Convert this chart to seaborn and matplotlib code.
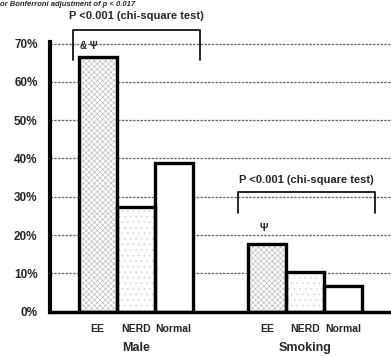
import pandas as pd
import matplotlib
matplotlib.use("Agg")
import matplotlib.pyplot as plt
import seaborn as sns

# values (percent)
groups = ["Male", "Smoking"]
categories = ["EE", "NERD", "Normal"]
male_values = [66.5, 27.3, 38.9]
smoking_values = [17.7, 10.4, 6.8]
ytick_values = [0, 10, 20, 30, 40, 50, 60, 70]
p_label = "P <0.001 (chi-square test)"
male_mark = "& \u03a8"
smoking_mark = "\u03a8"

# bar positions along the x axis (bar width = 1)
male_pos = [1.25, 2.25, 3.25]
smoking_pos = [5.72, 6.72, 7.72]

df = pd.DataFrame({
    "pos": male_pos + smoking_pos,
    "value": male_values + smoking_values,
    "cat": categories * 2,
})

sns.set_style("white")
plt.rcParams["font.family"] = ["Liberation Sans", "DejaVu Sans"]
plt.rcParams["hatch.linewidth"] = 0.35

fig = plt.figure(figsize=(3.91, 3.56), dpi=100)
ax = fig.add_axes([0.128, 0.1245, 0.872, 0.7575])

# grid behind bars
for v in ytick_values[1:]:
    ax.axhline(v, color="#666666", lw=0.9, ls=(0, (2, 1)), zorder=0)

# hatched fills
sns.barplot(data=df, x="pos", y="value", native_scale=True, width=1.0,
            color="white", linewidth=0, ax=ax, zorder=2)
hatches = ["xxxxxx", "...", ""] * 2
hatch_colors = ["#a8a8a8", "#cfcfcf", "white"] * 2
for patch, h, c in zip(ax.patches, hatches, hatch_colors):
    patch.set_facecolor("white")
    patch.set_hatch(h)
    patch.set_edgecolor(c)
    patch.set_linewidth(0)

# black outlines
sns.barplot(data=df, x="pos", y="value", native_scale=True, width=1.0,
            color="black", fill=False, linewidth=2.4, ax=ax, zorder=3)

ax.set_xlim(0, 8.97)
ax.set_ylim(0, 70.4)
ax.set_yticks(ytick_values)
ax.set_yticklabels([f"{v}%" for v in ytick_values], fontsize=8.5, fontweight="bold")
ax.tick_params(axis="y", length=0, pad=9)
ax.set_xticks(male_pos + smoking_pos)
ax.set_xticklabels(categories * 2, fontsize=7.5, fontweight="bold")
ax.tick_params(axis="x", length=0, pad=9)
ax.set_xlabel("")
ax.set_ylabel("")

for side in ["top", "right"]:
    ax.spines[side].set_visible(False)
ax.spines["left"].set_linewidth(3)
ax.spines["bottom"].set_linewidth(2.5)
ax.spines["left"].set_color("black")
ax.spines["bottom"].set_color("black")

# group labels
for g, pos in zip(groups, [male_pos, smoking_pos]):
    ax.text(pos[1], -9.6, g, ha="center", va="center", fontsize=9,
            fontweight="bold", clip_on=False)

# significance brackets
def bracket(x0, x1, ytop, ybot, label_y):
    ax.plot([x0, x0, x1, x1], [ybot, ytop, ytop, ybot], color="black",
            lw=1.2, clip_on=False, zorder=4)
    ax.text((x0 + x1) / 2, label_y, p_label, ha="center", va="center",
            fontsize=8, fontweight="bold", clip_on=False)

bracket(0.6, 3.95, 73.5, 65.7, 77.2)
bracket(4.95, 8.55, 31.3, 25.8, 34.4)

ax.text(0.8, 69.3, male_mark, ha="left", va="center", fontsize=7,
        fontweight="bold", zorder=5)
ax.text(5.63, 21.9, smoking_mark, ha="center", va="center", fontsize=7.5,
        fontweight="bold", zorder=5)

# small note at the very top
fig.text(0.0, 0.998, "or Bonferroni adjustment of p < 0.017", ha="left",
         va="top", fontsize=5.5, fontstyle="italic", fontweight="bold")

fig.savefig("out.png", dpi=100)
